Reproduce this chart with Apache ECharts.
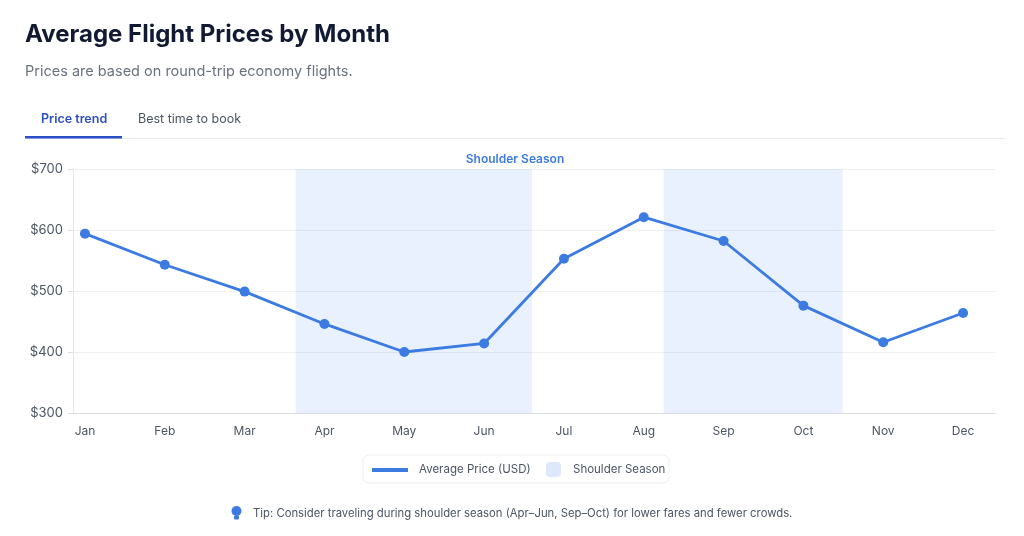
<!doctype html>
<html>
<head>
    <meta charset="utf-8">
    <title>Average Flight Prices by Month</title>
    <script src="https://cdn.jsdelivr.net/npm/echarts@6/dist/echarts.min.js"></script>
    <style>
        html, body { margin: 0; padding: 0; background: #ffffff; }
        #Chart { width: 1024px; height: 536px; }
    </style>
</head>
<body>
    <div id="Chart"></div>
</body>
</html>
<script>
    // data
    var months = ['Jan', 'Feb', 'Mar', 'Apr', 'May', 'Jun', 'Jul', 'Aug', 'Sep', 'Oct', 'Nov', 'Dec'];
    var prices = [594, 543, 499, 446, 400, 414, 553, 621, 582, 476, 416, 464];
    // shoulder season bands, in month-index units (0 = Jan)
    var shoulderFrom = [2.64, 7.25];
    var shoulderTo = [5.6, 9.49];
    var yTicks = [300, 400, 500, 600, 700];

    var FONT = 'Inter, "Noto Sans", sans-serif';
    var LINE = '#3b7be2';
    var SHADE = 'rgba(59,130,246,0.11)';

    function BuildLine() {
        var myChart = echarts.init(document.getElementById('Chart'));

        var points = [];
        for (var i = 0; i < prices.length; i++) {
            points.push([i, prices[i]]);
        }
        var bands = [];
        for (var j = 0; j < shoulderFrom.length; j++) {
            bands.push([{ xAxis: shoulderFrom[j] }, { xAxis: shoulderTo[j] }]);
        }
        var monthTicks = [];
        for (var k = 0; k < months.length; k++) monthTicks.push(k);

        var option = {
            backgroundColor: '#ffffff',
            textStyle: { fontFamily: FONT },
            title: {
                left: 25,
                top: 23,
                text: 'Average Flight Prices by Month',
                subtext: 'Prices are based on round-trip economy flights.',
                itemGap: 17,
                padding: 0,
                textStyle: { fontFamily: FONT, fontSize: 24, fontWeight: 700, color: '#121a33' },
                subtextStyle: { fontFamily: FONT, fontSize: 14.5, color: '#6b7280' }
            },
            grid: { left: 73, right: 29, top: 169, bottom: 123, containLabel: false },
            xAxis: {
                type: 'value',
                min: -0.15,
                max: 11.4,
                axisLine: { show: true, lineStyle: { color: '#d9dde3', width: 1 } },
                axisTick: { show: false },
                splitLine: { show: false },
                axisLabel: {
                    customValues: monthTicks,
                    margin: 12,
                    fontFamily: FONT,
                    fontSize: 12,
                    color: '#4b5563',
                    formatter: function (v) { return months[Math.round(v)]; }
                }
            },
            yAxis: {
                type: 'value',
                min: 300,
                max: 700,
                interval: 100,
                axisLine: { show: true, onZero: false, lineStyle: { color: '#e5e7eb' } },
                axisTick: { show: true, length: 5, lineStyle: { color: '#d9dde3' } },
                splitLine: { show: true, lineStyle: { color: '#eef0f3' } },
                axisLabel: {
                    margin: 10,
                    fontFamily: FONT,
                    fontSize: 13,
                    color: '#4b5563',
                    formatter: function (v) { return yTicks.indexOf(v) >= 0 ? '$' + v : ''; }
                }
            },
            legend: [{
                left: 372,
                top: 464,
                padding: 0,
                icon: 'rect',
                itemWidth: 36,
                itemHeight: 4,
                data: ['Average Price (USD)'],
                textStyle: { fontFamily: FONT, fontSize: 11.5, color: '#4b5563', padding: [0, 0, 0, 6] },
                selectedMode: false
            }, {
                left: 546,
                top: 462,
                padding: 0,
                icon: 'roundRect',
                itemWidth: 15,
                itemHeight: 15,
                data: [{ name: 'Shoulder Season', itemStyle: { color: '#dde9fb' } }],
                textStyle: { fontFamily: FONT, fontSize: 11.5, color: '#4b5563', padding: [0, 0, 0, 7] },
                selectedMode: false
            }],
            graphic: [
                // tabs
                { type: 'text', left: 41, top: 113, style: { text: 'Price trend', fontFamily: FONT, fontSize: 12.5, fontWeight: 600, fill: '#2b4fc7' } },
                { type: 'text', left: 138, top: 113, style: { text: 'Best time to book', fontFamily: FONT, fontSize: 12.5, fill: '#4b5563' } },
                { type: 'rect', shape: { x: 25, y: 138, width: 980, height: 1 }, style: { fill: '#e8eaee' } },
                { type: 'rect', shape: { x: 25, y: 136, width: 97, height: 2.5 }, style: { fill: '#2b4fc7' } },
                // band caption
                { type: 'text', x: 515, y: 159, style: { text: 'Shoulder Season', fontFamily: FONT, fontSize: 12, fontWeight: 600, fill: '#3b7be2', align: 'center', verticalAlign: 'middle' } },
                // legend box
                { type: 'rect', shape: { x: 363, y: 455, width: 306, height: 28, r: 6 }, style: { fill: '#ffffff', stroke: '#eceef2', lineWidth: 1 }, z: -1 },
                // tip
                { type: 'circle', shape: { cx: 236.5, cy: 511, r: 5 }, style: { fill: '#3b7be2' } },
                { type: 'rect', shape: { x: 234, y: 515.5, width: 5, height: 4, r: 1 }, style: { fill: '#3b7be2' } },
                { type: 'text', left: 253, top: 508, style: { text: 'Tip: Consider traveling during shoulder season (Apr\u2013Jun, Sep\u2013Oct) for lower fares and fewer crowds.', fontFamily: FONT, fontSize: 11.3, fill: '#4b5563' } }
            ],
            series: [
                {
                    name: 'Shoulder Season',
                    type: 'line',
                    data: [],
                    itemStyle: { color: '#dde9fb' },
                    markArea: {
                        silent: true,
                        itemStyle: { color: SHADE },
                        data: bands
                    }
                },
                {
                    name: 'Average Price (USD)',
                    type: 'line',
                    data: points,
                    symbol: 'circle',
                    symbolSize: 10,
                    itemStyle: { color: LINE },
                    lineStyle: { color: LINE, width: 2.8 },
                    z: 5
                }
            ]
        };
        myChart.setOption(option);
    }

    BuildLine();
</script>
